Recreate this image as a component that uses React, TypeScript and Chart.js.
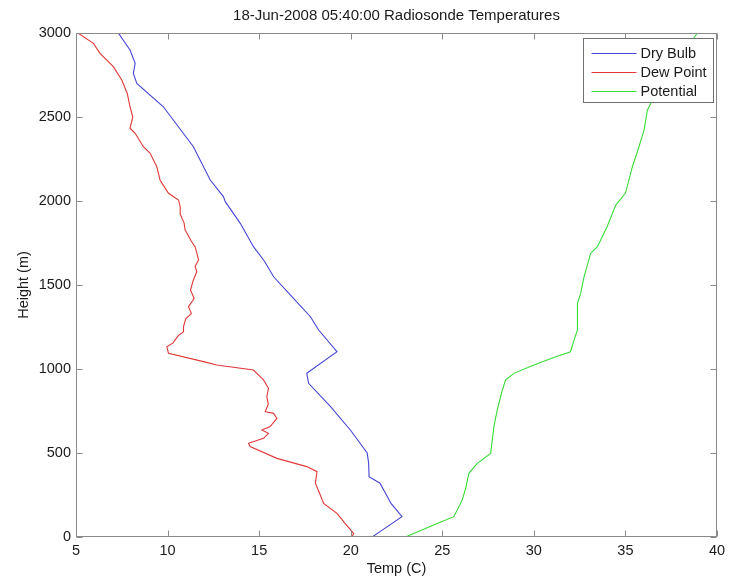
import React, { useEffect, useRef } from "react";
import { Chart, registerables } from "chart.js";

Chart.register(...registerables);

const TITLE = "18-Jun-2008 05:40:00 Radiosonde Temperatures";
const X_LABEL = "Temp (C)";
const Y_LABEL = "Height (m)";
const X_TICKS = [5, 10, 15, 20, 25, 30, 35, 40];
const Y_TICKS = [0, 500, 1000, 1500, 2000, 2500, 3000];
const SERIES_NAMES = ["Dry Bulb", "Dew Point", "Potential"];
const SERIES_COLORS = ["#4545d6", "#e03838", "#38dc38"];

const dryBulbHeight = [0, 32, 121, 200, 320, 359, 438, 500, 637, 776, 915, 974, 1103, 1232, 1311, 1430, 1549, 1640, 1728, 1867, 1996, 2026, 2125, 2323, 2561, 2700, 2760, 2819, 2899, 3000];
const dryBulbTemp = [21.17, 21.6, 22.8, 22.2, 21.6, 21.0, 20.98, 20.9, 19.98, 18.9, 17.7, 17.6, 19.25, 18.25, 17.8, 16.8, 15.79, 15.3, 14.69, 13.97, 13.15, 13.05, 12.33, 11.41, 9.77, 8.32, 8.13, 8.23, 7.95, 7.31];

const dewPointHeight = [0, 22, 80, 141, 200, 260, 320, 389, 419, 468, 538, 558, 587, 617, 637, 657, 706, 736, 746, 790, 835, 885, 935, 994, 1024, 1044, 1093, 1133, 1155, 1173, 1200, 1222, 1252, 1300, 1330, 1371, 1420, 1470, 1530, 1580, 1610, 1649, 1690, 1728, 1760, 1800, 1827, 1870, 1920, 1966, 2006, 2046, 2105, 2125, 2204, 2284, 2323, 2403, 2433, 2500, 2561, 2640, 2720, 2800, 2879, 2938, 2998, 3000];
const dewPointTemp = [20.07, 20.16, 19.7, 19.25, 18.52, 18.3, 18.07, 18.16, 17.6, 15.97, 14.51, 14.42, 15.24, 15.51, 15.15, 15.6, 15.97, 15.79, 15.33, 15.5, 15.42, 15.51, 15.24, 14.69, 12.69, 11.96, 10.05, 9.96, 10.3, 10.41, 10.6, 10.87, 10.87, 11.0, 11.3, 11.14, 11.45, 11.25, 11.41, 11.6, 11.5, 11.69, 11.6, 11.5, 11.3, 11.1, 10.96, 10.9, 10.7, 10.69, 10.6, 10.05, 9.7, 9.59, 9.41, 9.05, 8.68, 8.23, 7.95, 8.1, 7.95, 7.8, 7.5, 7.04, 6.31, 5.95, 5.13, 5.0];

const potentialHeight = [0, 81, 121, 220, 300, 379, 438, 498, 577, 657, 756, 875, 935, 974, 1024, 1073, 1103, 1173, 1232, 1391, 1451, 1549, 1688, 1728, 1847, 1976, 2046, 2204, 2323, 2423, 2542, 2621, 2720, 2820, 2920, 3000];
const potentialTemp = [22.99, 24.72, 25.63, 26.09, 26.3, 26.45, 26.91, 27.64, 27.73, 27.82, 28.0, 28.28, 28.46, 28.91, 30.0, 31.2, 32.0, 32.2, 32.38, 32.38, 32.56, 32.74, 33.1, 33.47, 34.0, 34.47, 35.0, 35.38, 35.74, 36.02, 36.2, 36.57, 37.2, 37.8, 38.4, 38.93];

const FONT = "'Liberation Sans', Arial, Helvetica, sans-serif";

const toPoints = (h: number[], t: number[]) => h.map((v, i) => ({ x: t[i], y: v }));

const matlabFrame = {
  id: "matlabFrame",
  afterDraw(chart: any) {
    const { ctx, chartArea } = chart;
    const { left, right, top, bottom } = chartArea;
    const xs = chart.scales.x;
    const ys = chart.scales.y;
    ctx.save();
    ctx.strokeStyle = "#8a8a8a";
    ctx.lineWidth = 1;
    const L = Math.round(left) + 0.5;
    const R = Math.round(right) - 0.5;
    const T = Math.round(top) + 0.5;
    const B = Math.round(bottom) - 0.5;
    ctx.strokeRect(L, T, R - L, B - T);
    const tl = 6;
    ctx.beginPath();
    X_TICKS.forEach((v) => {
      const px = Math.round(xs.getPixelForValue(v)) + 0.5;
      ctx.moveTo(px, B);
      ctx.lineTo(px, B - tl);
      ctx.moveTo(px, T);
      ctx.lineTo(px, T + tl);
    });
    Y_TICKS.forEach((v) => {
      const py = Math.round(ys.getPixelForValue(v)) + 0.5;
      ctx.moveTo(L, py);
      ctx.lineTo(L + tl, py);
      ctx.moveTo(R, py);
      ctx.lineTo(R - tl, py);
    });
    ctx.stroke();

    // legend inside the axes, top right
    ctx.font = `14.5px ${FONT}`;
    const datasets = chart.data.datasets;
    let maxW = 0;
    datasets.forEach((d: any) => {
      maxW = Math.max(maxW, ctx.measureText(d.label).width);
    });
    const boxW = Math.round(58 + maxW + 6);
    const rowH = 19;
    const boxH = 64;
    const bx = Math.round(right) - 4 - boxW + 0.5;
    const by = Math.round(top) + 5 + 0.5;
    ctx.fillStyle = "#ffffff";
    ctx.fillRect(bx, by, boxW, boxH);
    ctx.strokeStyle = "#707070";
    ctx.strokeRect(bx, by, boxW, boxH);
    datasets.forEach((d: any, i: number) => {
      const cy = Math.round(by + 14 + i * rowH);
      ctx.strokeStyle = d.borderColor;
      ctx.lineWidth = 1;
      ctx.beginPath();
      ctx.moveTo(bx + 8, cy + 0.5);
      ctx.lineTo(bx + 53, cy + 0.5);
      ctx.stroke();
      ctx.fillStyle = "#1a1a1a";
      ctx.textAlign = "left";
      ctx.textBaseline = "middle";
      ctx.fillText(d.label, bx + 57, cy + 1);
    });
    ctx.restore();
  },
};

export default function App() {
  const canvasRef = useRef<HTMLCanvasElement | null>(null);

  useEffect(() => {
    const canvas = canvasRef.current;
    if (!canvas) return;
    const series = [
      toPoints(dryBulbHeight, dryBulbTemp),
      toPoints(dewPointHeight, dewPointTemp),
      toPoints(potentialHeight, potentialTemp),
    ];
    const chart = new Chart(canvas, {
      type: "line",
      data: {
        datasets: series.map((pts, i) => ({
          label: SERIES_NAMES[i],
          data: pts,
          borderColor: SERIES_COLORS[i],
          backgroundColor: SERIES_COLORS[i],
          borderWidth: 1.1,
          pointRadius: 0,
          tension: 0,
          fill: false,
        })),
      },
      options: {
        responsive: false,
        animation: false,
        devicePixelRatio: 1,
        layout: { padding: { left: 0, right: 23, top: 0, bottom: 0 } },
        plugins: {
          legend: { display: false },
          tooltip: { enabled: false },
          title: {
            display: true,
            text: TITLE,
            fullSize: false,
            color: "#1a1a1a",
            font: { family: FONT, size: 15, weight: "normal", lineHeight: 1.2 },
            padding: { top: 7, bottom: 8 },
          },
        },
        scales: {
          x: {
            type: "linear",
            min: 5,
            max: 40,
            afterBuildTicks: (s: any) => {
              s.ticks = X_TICKS.map((v) => ({ value: v }));
            },
            afterFit: (s: any) => {
              s.height = 44;
            },
            grid: { display: false, drawTicks: false },
            border: { display: false },
            ticks: {
              color: "#1a1a1a",
              padding: 5,
              maxRotation: 0,
              font: { family: FONT, size: 14.5 },
              callback: (v: any) => String(v),
            },
            title: {
              display: true,
              text: X_LABEL,
              color: "#1a1a1a",
              font: { family: FONT, size: 14.5, lineHeight: 1.2 },
              padding: { top: 0, bottom: 3.5 },
            },
          },
          y: {
            type: "linear",
            min: 0,
            max: 3000,
            afterBuildTicks: (s: any) => {
              s.ticks = Y_TICKS.map((v) => ({ value: v }));
            },
            afterFit: (s: any) => {
              s.width = 76;
            },
            grid: { display: false, drawTicks: false },
            border: { display: false },
            ticks: {
              color: "#1a1a1a",
              padding: 5,
              font: { family: FONT, size: 14.5 },
              callback: (v: any) => String(v),
            },
            title: {
              display: true,
              text: Y_LABEL,
              color: "#1a1a1a",
              font: { family: FONT, size: 14.5, lineHeight: 1.2 },
              padding: { top: 15, bottom: 0 },
            },
          },
        },
      },
      plugins: [matlabFrame],
    } as any);
    return () => chart.destroy();
  }, []);

  return (
    <div style={{ position: "absolute", left: 0, top: 0, width: 740, height: 581, background: "#ffffff" }}>
      <canvas ref={canvasRef} width={740} height={581} style={{ display: "block" }} />
    </div>
  );
}
